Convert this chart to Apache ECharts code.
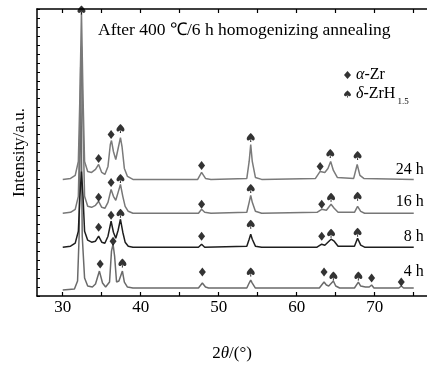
<!DOCTYPE html>
<html>
<head>
<meta charset="utf-8">
<script src="https://cdn.jsdelivr.net/npm/echarts@6/dist/echarts.min.js"></script>
<style>
  html, body { margin: 0; padding: 0; background: #fff; }
  #chart { width: 427px; height: 367px; }
</style>
</head>
<body>
<div id="chart"></div>
<script>
// x ticks and labels (2theta, degrees)
const xTicks = [30, 35, 40, 45, 50, 55, 60, 65, 70, 75]
const xLabels = [30, 40, 50, 60, 70]

// traces: [2theta, intensity (offset, a.u.)]
const trace24h = [[30,117],[31,118],[31.6,121],[32.0,135],[32.2,200],[32.4,285],[32.6,200],[32.8,135],[33.2,125],[33.7,124],[34.2,127],[34.6,132],[35.0,124],[35.4,122],[35.8,130],[36.1,152],[36.25,156],[36.5,145],[36.8,137],[37.1,148],[37.4,159],[37.6,150],[37.9,128],[38.3,120],[39,117],[47.3,117],[47.8,124],[48.3,118],[49,117],[53.6,118],[53.9,135],[54.1,152],[54.3,135],[54.7,119],[55.5,117],[62.4,118],[63.0,125],[63.6,124],[64.0,128],[64.35,135],[64.7,126],[65.2,119],[67.3,118],[67.75,132],[68.1,121],[68.6,118],[75,117]]
const trace16h = [[30,83],[31,84],[31.6,87],[32.0,100],[32.2,170],[32.4,250],[32.6,170],[32.8,100],[33.2,90],[33.7,89],[34.2,91],[34.6,95],[35.0,89],[35.4,88],[35.8,94],[36.2,107],[36.5,100],[36.8,96],[37.1,104],[37.4,112],[37.7,100],[38.0,90],[38.4,85],[39,83],[47.4,83],[47.8,87],[48.2,84],[49,83],[53.6,84],[53.9,94],[54.1,101],[54.3,94],[54.7,85],[55.5,83],[62.6,84],[63.2,87],[63.8,86],[64.4,92],[64.8,88],[65.3,84],[67.4,84],[67.8,90],[68.2,85],[68.7,83],[75,83]]
const trace8h = [[30,49],[31,50],[31.6,53],[32.0,65],[32.2,100],[32.4,125],[32.6,100],[32.8,65],[33.2,56],[33.7,54],[34.2,55],[34.6,60],[35.0,54],[35.4,53],[35.8,60],[36.2,75],[36.5,64],[36.8,58],[37.1,66],[37.4,77],[37.7,64],[38.0,54],[38.4,50],[39,49],[47.4,49],[47.8,52],[48.2,49],[53.6,50],[53.9,57],[54.1,62],[54.3,57],[54.7,50],[55.5,49],[62.6,49],[63.2,52],[63.6,51],[64.4,57],[64.8,55],[65.3,50],[67.4,50],[67.8,58],[68.2,51],[68.7,49],[75,49]]
const trace4h = [[30,6],[31.5,7],[31.9,15],[32.1,60],[32.3,230],[32.5,60],[32.8,18],[33.2,10],[33.8,9],[34.2,12],[34.7,25],[35.1,13],[35.5,9],[36.0,14],[36.25,45],[36.45,52],[36.65,40],[36.9,14],[37.2,15],[37.65,25],[37.9,14],[38.3,9],[39,8],[47.4,8],[47.9,13],[48.3,9],[48.7,8],[53.6,8],[53.9,13],[54.1,16],[54.3,13],[54.7,8],[62.9,8],[63.5,14],[63.8,11],[64.1,10],[64.7,15],[65.0,10],[65.5,8],[67.4,8],[67.9,14],[68.2,10],[68.8,9],[69.3,9],[69.6,11],[69.9,8],[73.1,8],[73.4,10],[73.7,8],[75,8]]

// phase markers: [2theta, height]
const alphaZr = [[34.6,138],[36.2,162],[47.8,131],[63.0,130],[34.6,99],[36.2,114],[47.8,92],[63.2,92],[34.6,69],[36.2,81],[47.8,60],[63.2,60],[34.8,32],[36.45,55],[47.9,24],[63.5,24],[69.6,18],[73.4,14]]
const deltaZrH = [[32.4,287],[37.4,168],[54.1,159],[64.3,143],[67.8,141],[37.4,118],[54.1,108],[64.4,99],[67.8,100],[37.4,83],[54.1,72],[64.4,63],[67.8,64],[37.65,33],[54.1,24],[64.7,20],[67.9,20]]

const serif = "'Liberation Serif', 'Times New Roman', serif"
const spade = 'path://M50,0 C50,0 0,40 0,62 C0,80 20,88 35,78 C40,75 45,70 47,66 L42,100 L58,100 L53,66 C55,70 60,75 65,78 C80,88 100,80 100,62 C100,40 50,0 50,0 Z'

const chart = echarts.init(document.getElementById('chart'))

function trace (name, data, color, dy) {
  return {
    name: name,
    type: 'line',
    data: data,
    symbol: 'none',
    lineStyle: { color: color, width: 1.5 },
    silent: true,
    endLabel: {
      show: true,
      formatter: name,
      align: 'right',
      offset: [2, dy],
      fontFamily: serif,
      fontSize: 16,
      color: '#000'
    }
  }
}

const axisCommon = {
  type: 'value',
  min: 26.7,
  max: 76.7,
  axisLine: { lineStyle: { color: '#000', width: 1.5 } },
  axisTick: { inside: true, length: 4, customValues: xTicks, lineStyle: { color: '#000', width: 1.2 } },
  splitLine: { show: false }
}

chart.setOption({
  animation: false,
  title: {
    text: 'After 400 ℃/6 h homogenizing annealing',
    left: 93,
    top: 16,
    textStyle: { fontFamily: serif, fontSize: 17.5, fontWeight: 'normal', color: '#000' }
  },
  legend: {
    orient: 'vertical',
    left: 339,
    top: 62,
    itemWidth: 7,
    itemHeight: 8,
    itemGap: 3,
    data: [
      { name: 'α-Zr', icon: 'diamond' },
      { name: 'δ-ZrH1.5', icon: spade }
    ],
    formatter: n => n === 'α-Zr' ? '{i|α}-Zr' : '{i|δ}-ZrH{s|1.5}',
    textStyle: {
      fontFamily: serif,
      fontSize: 16,
      color: '#000',
      rich: {
        i: { fontFamily: serif, fontSize: 16, fontStyle: 'italic' },
        s: { fontFamily: serif, fontSize: 9, padding: [16, 0, 0, 2] }
      }
    }
  },
  grid: { left: 37, right: 0, top: 9, bottom: 70 },
  xAxis: [
    Object.assign({}, axisCommon, {
      position: 'bottom',
      name: '2{i|θ}/(°)',
      nameLocation: 'middle',
      nameGap: 49,
      nameTextStyle: {
        fontFamily: serif, fontSize: 17, color: '#000',
        rich: { i: { fontFamily: serif, fontSize: 17, fontStyle: 'italic' } }
      },
      axisLabel: { customValues: xLabels, margin: 3, fontFamily: serif, fontSize: 17, color: '#000' }
    }),
    Object.assign({}, axisCommon, {
      position: 'top',
      axisLabel: { show: false }
    })
  ],
  yAxis: {
    type: 'value',
    min: 0,
    max: 288,
    interval: 9,
    name: 'Intensity/a.u.',
    nameLocation: 'middle',
    nameGap: 9,
    nameTextStyle: { fontFamily: serif, fontSize: 17, color: '#000' },
    axisLine: { show: true, lineStyle: { color: '#000', width: 1.5 } },
    axisTick: { show: true, inside: true, length: 3, lineStyle: { color: '#000' } },
    axisLabel: { show: false },
    splitLine: { show: false }
  },
  series: [
    trace('4 h', trace4h, '#6a6a6a', -16),
    trace('8 h', trace8h, '#1e1e1e', -10),
    trace('16 h', trace16h, '#777777', -11),
    trace('24 h', trace24h, '#7a7a7a', -10),
    {
      name: 'α-Zr',
      type: 'scatter',
      data: alphaZr,
      symbol: 'diamond',
      symbolSize: [7, 9],
      itemStyle: { color: '#000' },
      silent: true,
      z: 5
    },
    {
      name: 'δ-ZrH1.5',
      type: 'scatter',
      data: deltaZrH,
      symbol: spade,
      symbolSize: [8, 9],
      itemStyle: { color: '#000' },
      silent: true,
      z: 5
    }
  ]
})
</script>
</body>
</html>
